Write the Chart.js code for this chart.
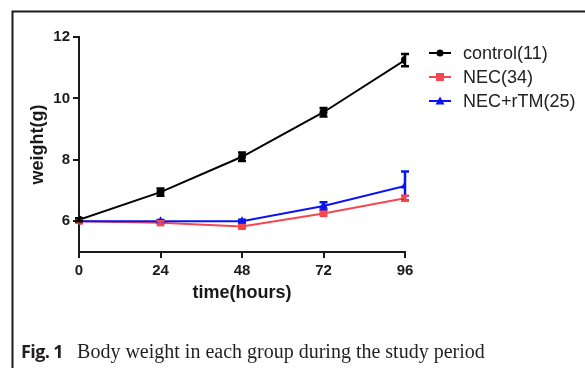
<!DOCTYPE html>
<html>
<head>
<meta charset="utf-8">
<script src="https://cdn.jsdelivr.net/npm/chart.js@4.4.1/dist/chart.umd.min.js"></script>
<style>
  html, body { margin: 0; padding: 0; background: #fff; }
  #wrap { position: relative; width: 585px; height: 368px; overflow: hidden; }
  #caption { position: absolute; left: 21px; top: 339px; white-space: nowrap; color: #231f20; }
  #caption b { font-family: "Liberation Sans Narrow", "Open Sans", sans-serif; font-size: 18px; font-weight: 700; letter-spacing: -0.6px; }
  #caption span { font-family: "Liberation Serif", "DejaVu Serif", serif; font-size: 20px; margin-left: 14px; }
</style>
</head>
<body>
<div id="wrap">
  <canvas id="myChart" width="585" height="368"></canvas>
  <div id="caption"><b>Fig. 1</b><span>Body weight in each group during the study period</span></div>
</div>
<script>
const hours = [0, 24, 48, 72, 96];
const seriesNames = ['control(11)', 'NEC(34)', 'NEC+rTM(25)'];
const controlWeight = [6.05, 6.95, 8.1, 9.55, 11.25];
const controlErr = [0.05, 0.12, 0.14, 0.14, 0.2];
const necWeight = [6.0, 5.95, 5.83, 6.25, 6.75];
const necErr = [0.04, 0.05, 0.05, 0.06, 0.08];
const rtmWeight = [6.0, 6.0, 6.0, 6.5, 7.15];
const rtmErr = [0.03, 0.04, 0.05, 0.12, 0.47];
const yTicks = [6, 8, 10, 12];

const ctx = document.getElementById('myChart').getContext('2d');
const ink = '#1a1a1a';

function pts(vals) {
    return hours.map((h, i) => ({ x: h, y: vals[i] }));
}

const colors = ['#000000', '#f4474f', '#0a14f0'];
const markers = ['circle', 'rect', 'triangle'];
const errs = [controlErr, necErr, rtmErr];

// frame around the figure (top and left edges show)
const framePlugin = {
    id: 'frame',
    beforeDraw(chart) {
        const c = chart.ctx;
        c.save();
        c.strokeStyle = ink;
        c.lineWidth = 2;
        c.beginPath();
        c.moveTo(585, 11.5);
        c.lineTo(12.5, 11.5);
        c.lineTo(12.5, 368);
        c.stroke();
        c.restore();
    }
};

const errorBars = {
    id: 'errorBars',
    afterDatasetsDraw(chart) {
        const c = chart.ctx;
        const ys = chart.scales.y;
        c.save();
        [2, 1, 0].forEach(d => {
            const meta = chart.getDatasetMeta(d);
            c.strokeStyle = colors[d];
            c.lineWidth = 2.5;
            meta.data.forEach((p, i) => {
                const v = chart.data.datasets[d].data[i].y;
                const e = errs[d][i];
                const top = ys.getPixelForValue(v + e);
                const bot = ys.getPixelForValue(v - e);
                c.beginPath();
                c.moveTo(p.x, top); c.lineTo(p.x, bot);
                c.moveTo(p.x - 4, top); c.lineTo(p.x + 4, top);
                c.moveTo(p.x - 4, bot); c.lineTo(p.x + 4, bot);
                c.stroke();
            });
        });
        c.restore();
    }
};

const sideLegend = {
    id: 'sideLegend',
    afterDraw(chart) {
        const c = chart.ctx;
        c.save();
        c.font = '18px "Liberation Sans", Arial, sans-serif';
        c.textBaseline = 'middle';
        seriesNames.forEach((name, i) => {
            const y = 53 + i * 24;
            c.strokeStyle = colors[i];
            c.fillStyle = colors[i];
            c.lineWidth = 2;
            c.beginPath();
            c.moveTo(429, y); c.lineTo(451, y);
            c.stroke();
            c.beginPath();
            if (i === 0) {
                c.arc(440, y, 3.5, 0, Math.PI * 2);
            } else if (i === 1) {
                c.rect(436, y - 4, 8, 8);
            } else {
                c.moveTo(440, y - 4.5); c.lineTo(444.5, y + 3.5); c.lineTo(435.5, y + 3.5); c.closePath();
            }
            c.fill();
            c.fillStyle = '#222';
            c.fillText(name, 463, y + 1);
        });
        c.restore();
    }
};

const datasets = [controlWeight, necWeight, rtmWeight].map((vals, i) => ({
    label: seriesNames[i],
    data: pts(vals),
    borderColor: colors[i],
    backgroundColor: colors[i],
    borderWidth: 2,
    pointStyle: markers[i],
    pointRadius: i === 0 ? 4 : 5,
    pointBorderWidth: 0,
    tension: 0,
    order: [0, 2, 1][i]
}));

const axisFont = { family: '"Liberation Sans", Arial, sans-serif', weight: 'bold' };

new Chart(ctx, {
    type: 'line',
    data: { datasets },
    options: {
        responsive: false,
        animation: false,
        layout: { padding: { left: 12, top: 37, right: 180, bottom: 60 } },
        plugins: { legend: { display: false }, tooltip: { enabled: false } },
        scales: {
            x: {
                type: 'linear',
                min: 0, max: 96,
                afterFit: s => { s.height = 56; },
                ticks: { stepSize: 24, color: ink, padding: 4, font: { ...axisFont, size: 15 } },
                grid: { display: true, drawOnChartArea: false, drawTicks: true, tickLength: 6, color: ink, lineWidth: 2 },
                border: { color: ink, width: 2 },
                title: { display: true, text: 'time(hours)', color: ink, font: { ...axisFont, size: 18 }, padding: { top: 4 } }
            },
            y: {
                min: 5, max: 12,
                afterFit: s => { s.width = 67; },
                afterBuildTicks: s => { s.ticks = yTicks.map(v => ({ value: v })); },
                ticks: { color: ink, padding: 3, font: { ...axisFont, size: 15 } },
                grid: { display: true, drawOnChartArea: false, drawTicks: true, tickLength: 6, color: ink, lineWidth: 2 },
                border: { color: ink, width: 2 },
                title: { display: true, text: 'weight(g)', color: ink, font: { ...axisFont, size: 18 }, padding: { top: 15 } }
            }
        }
    },
    plugins: [framePlugin, errorBars, sideLegend]
});
</script>
</body>
</html>
